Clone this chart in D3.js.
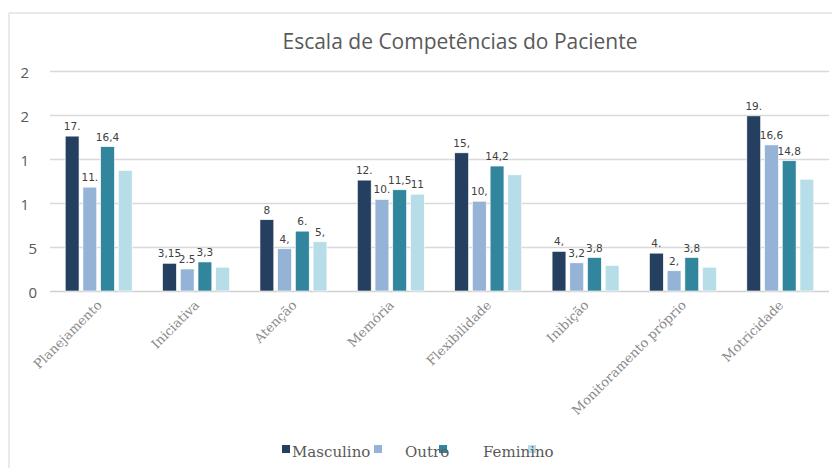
<!DOCTYPE html>
<html>
<head>
<meta charset="utf-8">
<script src="https://cdn.jsdelivr.net/npm/d3@7"></script>
<style>
  body { margin: 0; background: #fff; }
  svg { display: block; }
</style>
</head>
<body>
<svg id="svg"></svg>
<script>
// data
var categories = ["Planejamento", "Iniciativa", "Atenção", "Memória", "Flexibilidade", "Inibição", "Monitoramento próprio", "Motricidade"];
var masculino  = [17.6, 3.15, 8.1, 12.6, 15.7, 4.5, 4.3, 19.9];
var outro1     = [11.8, 2.5, 4.8, 10.4, 10.2, 3.2, 2.3, 16.6];
var outro2     = [16.4, 3.3, 6.8, 11.5, 14.2, 3.8, 3.8, 14.8];
var feminino   = [13.7, 2.7, 5.6, 11.0, 13.2, 2.9, 2.7, 12.7];
// the labels exactly as shown on the chart ("" = no label)
var labels1 = ["17.", "3,15", "8", "12.", "15,", "4,", "4.", "19."];
var labels2 = ["11.", "2.5", "4,", "10.", "10,", "3,2", "2,", "16,6"];
var labels3 = ["16,4", "3,3", "6.", "11,5", "14,2", "3,8", "3,8", "14,8"];
var labels4 = ["", "", "5,", "11", "", "", "", ""];
var tickValues = [0, 5, 10, 15, 20, 25];
var tickLabels = ["0", "5", "1", "1", "2", "2"];
var legendNames = ["Masculino", "Outro", "Feminino"];
var colors = ["#243f60", "#95b3d7", "#31859c", "#b7dee8"];

var w = 832, h = 468;
var series = [masculino, outro1, outro2, feminino];
var labelSets = [labels1, labels2, labels3, labels4];

var svg = d3.select("#svg")
    .attr("width", w)
    .attr("height", h)

// chart frame (only top and left edges visible)
svg.append("line")
    .attr("x1", 9).attr("x2", w).attr("y1", 13).attr("y2", 13)
    .attr("stroke", "#e3e3e3").attr("stroke-width", 1.5)
svg.append("line")
    .attr("x1", 9).attr("x2", 9).attr("y1", 13).attr("y2", h)
    .attr("stroke", "#e3e3e3").attr("stroke-width", 1.5)

svg.append("text")
    .attr("x", 460)
    .attr("y", 49)
    .attr("text-anchor", "middle")
    .style("font-family", "Open Sans")
    .style("font-size", "21px")
    .style("fill", "#595959")
    .text("Escala de Competências do Paciente")

var x = d3.scaleBand()
    .domain(categories)
    .range([50, 829])

var xs = d3.scaleBand()
    .domain(d3.range(series.length))
    .range([0, x.bandwidth()])
    .paddingInner(0.22)
    .paddingOuter(0.86)

var y = d3.scaleLinear()
    .domain([0, 25])
    .range([291, 71])

// gridlines
svg.append("g")
    .selectAll("line")
    .data(tickValues)
    .enter().append("line")
    .attr("x1", 50).attr("x2", 829)
    .attr("y1", function(d){return Math.round(y(d)) + 0.5;})
    .attr("y2", function(d){return Math.round(y(d)) + 0.5;})
    .attr("stroke", function(d){return d == 0 ? "#d0d0d0" : "#d9d9d9";})
    .attr("stroke-width", 1.3)

// y axis labels (truncated as in the original)
svg.append("g")
    .selectAll("text")
    .data(tickValues)
    .enter().append("text")
    .attr("x", function(d){return d >= 10 ? 29 : 37;})
    .attr("y", function(d){return y(d) + 1;})
    .attr("dy", "0.38em")
    .attr("text-anchor", "end")
    .style("font-family", "Open Sans")
    .style("font-size", "15px")
    .style("fill", "#595959")
    .text(function(d, i){return tickLabels[i];})

// bars
var groups = svg.append("g")
    .selectAll("g")
    .data(series)
    .enter().append("g")
    .attr("fill", function(d, i){return colors[i];})

groups.each(function(vals, si) {
    var g = d3.select(this);
    g.selectAll("rect")
        .data(vals)
        .enter().append("rect")
        .attr("x", function(d, ci){return x(categories[ci]) + xs(si);})
        .attr("y", function(d){return y(d);})
        .attr("width", xs.bandwidth())
        .attr("height", function(d){return y(0) - y(d);})
        .attr("stroke", "#fff")
        .attr("stroke-width", 0.6)

    g.selectAll("text")
        .data(labelSets[si])
        .enter().append("text")
        .attr("x", function(d, ci){return x(categories[ci]) + xs(si) + xs.bandwidth() / 2;})
        .attr("y", function(d, ci){return y(vals[ci]) - 6;})
        .attr("text-anchor", "middle")
        .style("font-family", "DejaVu Sans")
        .style("font-size", "10.5px")
        .style("fill", "#404040")
        .text(function(d){return d;})
})

// category labels
svg.append("g")
    .selectAll("text")
    .data(categories)
    .enter().append("text")
    .attr("transform", function(d){return "translate(" + (x(d) + x.bandwidth() / 2 + 4) + ",306) rotate(-45)";})
    .attr("text-anchor", "end")
    .style("font-family", "DejaVu Serif")
    .style("font-size", "13px")
    .style("fill", "#8a8a8a")
    .text(function(d){return d;})

// legend, laid out as in the picture
var legendTextX = [292, 405, 483];
var legendSwatchX = [282, 374, 439, 528];

svg.append("g")
    .selectAll("rect")
    .data(colors)
    .enter().append("rect")
    .attr("x", function(d, i){return legendSwatchX[i];})
    .attr("y", 445)
    .attr("width", 8)
    .attr("height", 8)
    .attr("fill", function(d){return d;})

svg.append("g")
    .selectAll("text")
    .data(legendNames)
    .enter().append("text")
    .attr("x", function(d, i){return legendTextX[i];})
    .attr("y", 457)
    .style("font-family", "DejaVu Serif")
    .style("font-size", "15px")
    .style("fill", "#595959")
    .text(function(d){return d;})
</script>
</body>
</html>
